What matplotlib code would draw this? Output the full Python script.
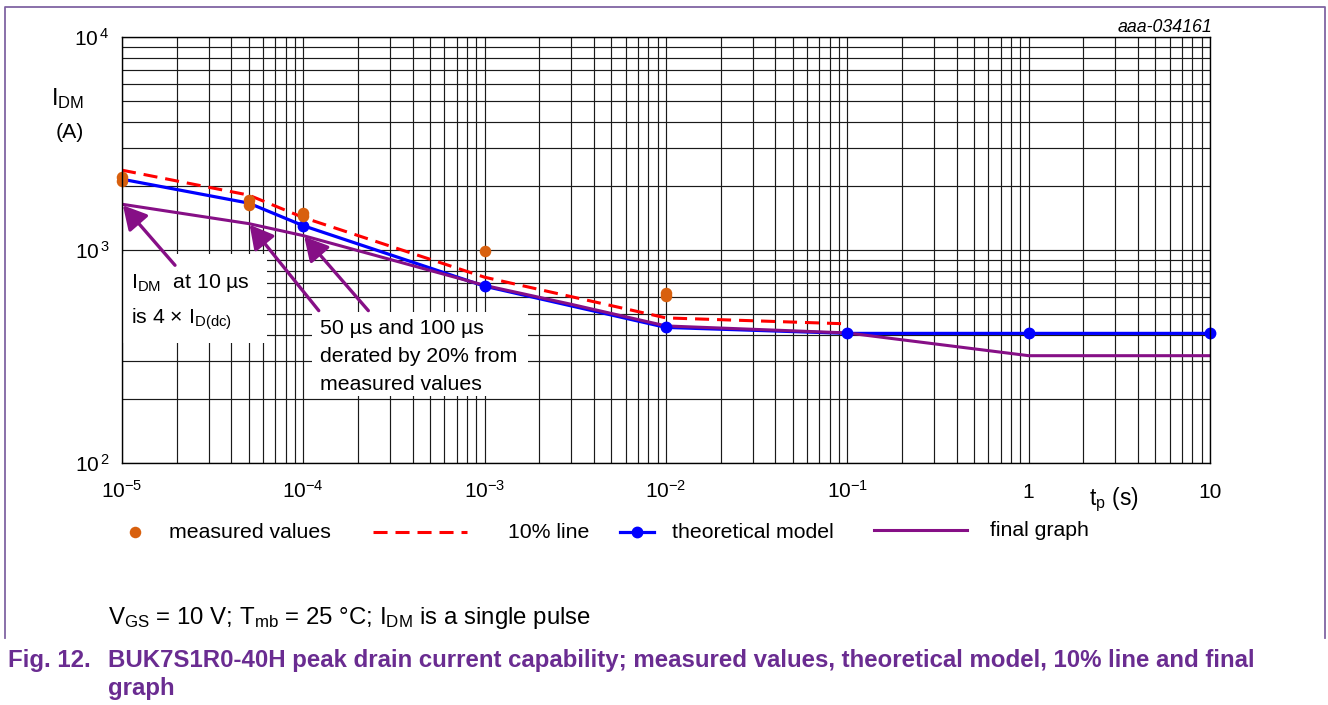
import matplotlib
matplotlib.use("Agg")
import matplotlib.pyplot as plt
from matplotlib.lines import Line2D
from matplotlib.patches import Rectangle
import matplotlib.transforms as mtransforms
import numpy as np

plt.rcParams['font.family'] = ['Liberation Sans', 'DejaVu Sans']
plt.rcParams['mathtext.fontset'] = 'custom'
plt.rcParams['mathtext.rm'] = 'Liberation Sans'
plt.rcParams['mathtext.it'] = 'Liberation Sans:italic'
plt.rcParams['mathtext.bf'] = 'Liberation Sans:bold'
plt.rcParams['mathtext.sf'] = 'Liberation Sans'

# ---------------- data ----------------
measured_t = [1e-5, 1e-5, 5e-5, 5e-5, 1e-4, 1e-4, 1e-3, 1e-2, 1e-2]
measured_i = [2200, 2100, 1710, 1620, 1485, 1440, 990, 631, 611]

line10_t = [1e-5, 5e-5, 1e-4, 1e-3, 1e-2, 1e-1]
line10_i = [2370, 1810, 1420, 745, 480, 450]

model_t = [1e-5, 5e-5, 1e-4, 1e-3, 1e-2, 1e-1, 1, 10]
model_i = [2150, 1660, 1300, 676, 433, 406, 406, 406]

final_t = [1e-5, 5e-5, 1e-4, 1e-3, 3e-3, 1e-2, 1e-1, 1, 10]
final_i = [1640, 1330, 1168, 682, 556, 440, 408, 319, 319]

xtick_vals = [1e-5, 1e-4, 1e-3, 1e-2, 1e-1, 1, 10]
xtick_labels = [r'$\mathregular{10^{-5}}$', r'$\mathregular{10^{-4}}$', r'$\mathregular{10^{-3}}$',
                r'$\mathregular{10^{-2}}$', r'$\mathregular{10^{-1}}$', '1', '10']
ytick_vals = [1e2, 1e3, 1e4]
ytick_labels = [r'$\mathregular{10^{\,2}}$', r'$\mathregular{10^{\,3}}$', r'$\mathregular{10^{\,4}}$']

legend_labels = ['measured values', '10% line', 'theoretical model', 'final graph']

# ---------------- style ----------------
W, H = 1328, 705
ORANGE = '#d8600e'
RED = '#ff0000'
BLUE = '#0000ff'
PURPLE = '#860f86'
CAPTION = '#6a2c91'
FRAME = '#8064a2'
FS = 15.3


def P(px, py):
    return px / W, 1 - py / H


fig = plt.figure(figsize=(W / 100, H / 100), dpi=100)
fig.patch.set_facecolor('white')

ax = fig.add_axes([122 / W, 1 - 463 / H, 1088 / W, 426 / H])
ax.set_xscale('log')
ax.set_yscale('log')
ax.set_xlim(1e-5, 10)
ax.set_ylim(100, 1e4)

ax.xaxis.set_major_locator(matplotlib.ticker.FixedLocator(xtick_vals))
ax.xaxis.set_minor_locator(matplotlib.ticker.LogLocator(base=10, subs=np.arange(2, 10)))
ax.yaxis.set_major_locator(matplotlib.ticker.FixedLocator(ytick_vals))
ax.yaxis.set_minor_locator(matplotlib.ticker.LogLocator(base=10, subs=np.arange(2, 10)))
ax.xaxis.set_minor_formatter(matplotlib.ticker.NullFormatter())
ax.yaxis.set_minor_formatter(matplotlib.ticker.NullFormatter())
ax.set_xticklabels([])
ax.set_yticks(ytick_vals)
ax.set_yticklabels(ytick_labels, fontsize=15)
ax.tick_params(which='both', length=0)
ax.tick_params(axis='y', pad=9)
ax.grid(which='both', color='#1a1a1a', lw=0.85)
for s in ax.spines.values():
    s.set_color('black')
    s.set_linewidth(1.0)
    s.set_zorder(6)

# x tick labels (baseline aligned)
trans_x = mtransforms.blended_transform_factory(ax.transData, ax.transAxes)
for v, lab in zip(xtick_vals, xtick_labels):
    ax.text(v + 0 * v, -35 / 426, lab, transform=trans_x, ha='center', va='baseline',
            fontsize=15, clip_on=False)

# white annotation boxes covering grid
ax.add_patch(Rectangle((0, 0.2817), 0.1333, 0.2089, transform=ax.transAxes,
                       facecolor='white', edgecolor='none', zorder=3))
ax.add_patch(Rectangle((0.1746, 0.1573), 0.1986, 0.1972, transform=ax.transAxes,
                       facecolor='white', edgecolor='none', zorder=3))

# curves
ax.plot(line10_t, line10_i, color=RED, lw=2.2, linestyle=(0, (4.6, 2.6)), zorder=4)
ax.plot(model_t, model_i, color=BLUE, lw=2.3, zorder=4.2)
ax.plot(final_t, final_i, color=PURPLE, lw=2.2, zorder=4.4)
ax.plot(model_t, model_i, linestyle='none', marker='o', ms=7.5, color=BLUE,
        markevery=[2, 3, 4, 5, 6, 7], zorder=4.6, clip_on=False)
ax.plot(measured_t, measured_i, linestyle='none', marker='o', ms=8.3, color=ORANGE,
        markeredgewidth=0, zorder=5, clip_on=False)

# arrows
arrow_kw = dict(arrowstyle='-|>,head_length=0.55,head_width=0.3', color=PURPLE, lw=2.4,
                mutation_scale=26, shrinkA=0, shrinkB=1)
ax.annotate('', xy=(final_t[0], final_i[0]), xytext=(53, -61), textcoords='offset pixels',
            arrowprops=arrow_kw, zorder=5.5, annotation_clip=False)
ax.annotate('', xy=(final_t[1], final_i[1]), xytext=(70, -87), textcoords='offset pixels',
            arrowprops=arrow_kw, zorder=5.5)
ax.annotate('', xy=(final_t[2], final_i[2]), xytext=(65, -75), textcoords='offset pixels',
            arrowprops=arrow_kw, zorder=5.5)

# annotation texts
fig.text(*P(131, 283), r'I$_{\mathregular{DM}}$  at 10 µs', fontsize=FS, va='center', ha='left')
fig.text(*P(131, 319), r'is 4 × I$_{\mathregular{D(dc)}}$', fontsize=FS, va='center', ha='left')
fig.text(*P(320, 329), '50 µs and 100 µs', fontsize=FS, va='center', ha='left')
fig.text(*P(320, 357), 'derated by 20% from', fontsize=FS, va='center', ha='left')
fig.text(*P(320, 385), 'measured values', fontsize=FS, va='center', ha='left')

# axis labels
fig.text(*P(51, 99), r'I$_{\mathregular{DM}}$', fontsize=17, va='center', ha='left')
fig.text(*P(70, 133), '(A)', fontsize=FS, va='center', ha='center')
fig.text(*P(1089, 500), r't$_{\mathregular{p}}$ (s)', fontsize=16.5, va='center', ha='left')
fig.text(*P(1212, 27), 'aaa-034161', fontsize=12.8, style='italic', va='center', ha='right')

# legend (manual layout)
ly = 532
fig.add_artist(Line2D([P(135, ly)[0]], [P(135, ly)[1]], marker='o', ms=8.3, color=ORANGE,
                      markeredgewidth=0, linestyle='none'))
fig.text(*P(169, ly), legend_labels[0], fontsize=FS, va='center', ha='left')
fig.add_artist(Line2D([P(373, ly)[0], P(467, ly)[0]], [P(373, ly)[1]] * 2, color=RED, lw=2.2,
                      linestyle=(0, (4.6, 2.6))))
fig.text(*P(508, ly), legend_labels[1], fontsize=FS, va='center', ha='left')
fig.add_artist(Line2D([P(620, ly)[0], P(654, ly)[0]], [P(620, ly)[1]] * 2, color=BLUE, lw=2.3))
fig.add_artist(Line2D([P(637, ly)[0]], [P(637, ly)[1]], marker='o', ms=7.5, color=BLUE,
                      linestyle='none'))
fig.text(*P(672, ly), legend_labels[2], fontsize=FS, va='center', ha='left')
fig.add_artist(Line2D([P(874, 530)[0], P(967, 530)[0]], [P(874, 530)[1]] * 2, color=PURPLE, lw=2.2))
fig.text(*P(990, 530), legend_labels[3], fontsize=FS, va='center', ha='left')

# conditions and caption
fig.text(*P(108, 618), r'V$_{\mathregular{GS}}$ = 10 V; T$_{\mathregular{mb}}$ = 25 °C; I$_{\mathregular{DM}}$ is a single pulse',
         fontsize=17.3, va='center', ha='left')
fig.text(*P(8, 661), 'Fig. 12.', fontsize=17.3, fontweight='bold', color=CAPTION, va='center', ha='left')
fig.text(*P(108, 661), 'BUK7S1R0-40H peak drain current capability; measured values, theoretical model, 10% line and final',
         fontsize=17.3, fontweight='bold', color=CAPTION, va='center', ha='left')
fig.text(*P(108, 688), 'graph', fontsize=17.3, fontweight='bold', color=CAPTION, va='center', ha='left')

# frame
fig.add_artist(Line2D([P(5, 638)[0], P(5, 7)[0], P(1325, 7)[0], P(1325, 638)[0]],
                      [P(5, 638)[1], P(5, 7)[1], P(1325, 7)[1], P(1325, 638)[1]],
                      color=FRAME, lw=1.3))

fig.savefig('out.png', dpi=100, facecolor='white')
